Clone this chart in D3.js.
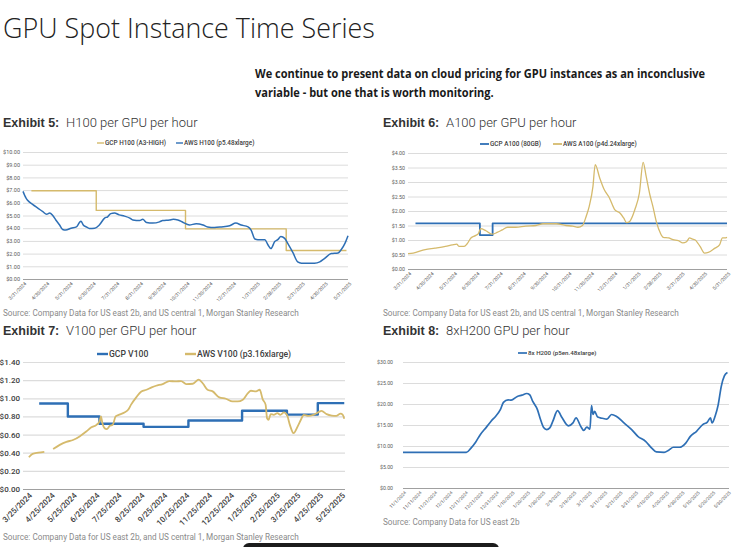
<!DOCTYPE html>
<html>
<head>
<meta charset="utf-8">
<script src="https://cdn.jsdelivr.net/npm/d3@7"></script>
<style>
  body { margin: 0; background: #fff; }
  svg { display: block; font-family: Roboto, "Liberation Sans", sans-serif; }
</style>
</head>
<body>
<svg id="chart" width="740" height="547"></svg>
<script>
// ---- tick labels ----
const monthEndTicks = ['3/31/2024', '4/30/2024', '5/31/2024', '6/30/2024', '7/31/2024', '8/31/2024', '9/30/2024',
  '10/31/2024', '11/30/2024', '12/31/2024', '1/31/2025', '2/28/2025', '3/31/2025', '4/30/2025', '5/31/2025'];
const v100Ticks = ['3/25/2024', '4/25/2024', '5/25/2024', '6/25/2024', '7/25/2024', '8/25/2024', '9/25/2024',
  '10/25/2024', '11/25/2024', '12/25/2024', '1/25/2025', '2/25/2025', '3/25/2025', '4/25/2025', '5/25/2025'];
const h200Ticks = ['11/1/2024', '11/11/2024', '11/21/2024', '12/1/2024', '12/11/2024', '12/21/2024', '12/31/2024',
  '1/10/2025', '1/20/2025', '1/30/2025', '2/9/2025', '2/19/2025', '3/1/2025', '3/11/2025', '3/21/2025', '3/31/2025',
  '4/10/2025', '4/20/2025', '4/30/2025', '5/10/2025', '5/20/2025', '5/30/2025'];

// ---- series ($ per hour) ----
const gcpH100 = [['2024-04-11', 6.95], ['2024-07-05', 5.4], ['2024-10-30', 3.95], ['2025-03-11', 2.25], ['2025-05-29', 2.25]];
const awsH100 = [['2024-03-31', 6.9], ['2024-04-04', 6.37], ['2024-04-06', 6.2], ['2024-04-13', 5.85], ['2024-04-19', 5.6],
  ['2024-04-26', 5.3], ['2024-05-01', 5.1], ['2024-05-05', 5.2], ['2024-05-09', 5.0], ['2024-05-13', 4.65], ['2024-05-18', 4.25],
  ['2024-05-22', 3.9], ['2024-05-26', 3.85], ['2024-06-02', 4.0], ['2024-06-09', 4.1], ['2024-06-13', 4.45], ['2024-06-15', 4.55],
  ['2024-06-18', 4.25], ['2024-06-22', 4.1], ['2024-06-26', 3.98], ['2024-07-03', 4.0], ['2024-07-09', 4.25], ['2024-07-16', 4.8],
  ['2024-07-20', 4.9], ['2024-07-24', 5.15], ['2024-07-29', 5.2], ['2024-08-04', 5.05], ['2024-08-11', 4.95], ['2024-08-18', 4.8],
  ['2024-08-22', 4.65], ['2024-08-31', 4.6], ['2024-09-04', 4.7], ['2024-09-09', 4.45], ['2024-09-17', 4.4], ['2024-09-26', 4.5],
  ['2024-09-30', 4.6], ['2024-10-09', 4.65], ['2024-10-14', 4.7], ['2024-10-20', 4.65], ['2024-10-27', 4.45], ['2024-11-04', 4.25],
  ['2024-11-13', 4.35], ['2024-11-22', 4.25], ['2024-11-28', 4.1], ['2024-12-07', 4.05], ['2024-12-16', 4.1], ['2024-12-27', 4.2],
  ['2025-01-04', 4.4], ['2025-01-11', 4.25], ['2025-01-20', 4.1], ['2025-01-24', 3.85], ['2025-01-29', 3.15], ['2025-02-02', 3.1],
  ['2025-02-11', 3.1], ['2025-02-15', 2.7], ['2025-02-19', 2.4], ['2025-02-24', 2.95], ['2025-02-28', 3.1], ['2025-03-04', 3.35],
  ['2025-03-09', 3.2], ['2025-03-13', 2.8], ['2025-03-20', 2.05], ['2025-03-26', 1.35], ['2025-03-31', 1.25], ['2025-04-06', 1.25],
  ['2025-04-17', 1.25], ['2025-04-24', 1.35], ['2025-04-30', 1.6], ['2025-05-09', 2.0], ['2025-05-18', 2.05], ['2025-05-22', 2.3],
  ['2025-05-27', 2.8], ['2025-05-31', 3.4]];

const gcpA100 = [['2024-04-10', 1.57], ['2024-07-05', 1.17], ['2024-07-22', 1.57], ['2025-05-31', 1.57]];
const awsA100 = [['2024-03-31', 0.53], ['2024-04-07', 0.55], ['2024-04-23', 0.67], ['2024-05-06', 0.72], ['2024-05-20', 0.78],
  ['2024-05-29', 0.83], ['2024-06-04', 0.86], ['2024-06-07', 0.78], ['2024-06-14', 0.78], ['2024-06-18', 0.87], ['2024-06-23', 1.07],
  ['2024-06-29', 1.15], ['2024-07-03', 1.22], ['2024-07-06', 1.39], ['2024-07-13', 1.32], ['2024-07-21', 1.2], ['2024-07-28', 1.26],
  ['2024-08-04', 1.35], ['2024-08-11', 1.44], ['2024-08-22', 1.44], ['2024-09-04', 1.48], ['2024-09-18', 1.5], ['2024-09-27', 1.56],
  ['2024-10-15', 1.56], ['2024-10-28', 1.5], ['2024-11-06', 1.48], ['2024-11-13', 1.44], ['2024-11-19', 1.5], ['2024-11-24', 1.82],
  ['2024-11-28', 2.16], ['2024-12-03', 2.85], ['2024-12-06', 3.6], ['2024-12-12', 3.14], ['2024-12-18', 2.74], ['2024-12-25', 2.45],
  ['2025-01-01', 2.05], ['2025-01-08', 1.93], ['2025-01-13', 1.76], ['2025-01-17', 1.6], ['2025-01-21', 1.64], ['2025-01-28', 2.05],
  ['2025-02-03', 2.62], ['2025-02-08', 3.68], ['2025-02-12', 3.2], ['2025-02-17', 2.56], ['2025-02-21', 2.16], ['2025-02-26', 1.6],
  ['2025-03-03', 1.24], ['2025-03-07', 1.09], ['2025-03-14', 1.07], ['2025-03-20', 1.01], ['2025-03-27', 0.98], ['2025-04-02', 0.9],
  ['2025-04-07', 0.94], ['2025-04-11', 1.07], ['2025-04-15', 1.03], ['2025-04-18', 1.01], ['2025-04-25', 0.78], ['2025-05-01', 0.55],
  ['2025-05-06', 0.57], ['2025-05-15', 0.72], ['2025-05-21', 0.83], ['2025-05-25', 1.07], ['2025-05-28', 1.07], ['2025-05-31', 1.09]];

const gcpV100 = [['2024-04-09', 0.943], ['2024-05-18', 0.80], ['2024-06-30', 0.72], ['2024-08-29', 0.685], ['2024-10-29', 0.755],
  ['2025-01-10', 0.862], ['2025-03-12', 0.82], ['2025-04-23', 0.947], ['2025-05-29', 0.947]];
const awsV100 = [['2024-03-26', 0.35], ['2024-03-31', 0.387], ['2024-04-08', 0.40], ['2024-04-16', 0.41], ['2024-04-22', null],
  ['2024-04-28', 0.44], ['2024-05-07', 0.486], ['2024-05-16', 0.52], ['2024-05-25', 0.54], ['2024-06-03', 0.58], ['2024-06-12', 0.634],
  ['2024-06-19', 0.68], ['2024-06-26', 0.707], ['2024-06-30', 0.744], ['2024-07-02', 0.80], ['2024-07-04', 0.726], ['2024-07-07', 0.67],
  ['2024-07-10', 0.66], ['2024-07-14', 0.696], ['2024-07-18', 0.707], ['2024-07-22', 0.80], ['2024-07-27', 0.82], ['2024-08-03', 0.844],
  ['2024-08-08', 0.873], ['2024-08-12', 0.93], ['2024-08-19', 1.01], ['2024-08-26', 1.076], ['2024-09-02', 1.094], ['2024-09-09', 1.12],
  ['2024-09-15', 1.138], ['2024-09-24', 1.157], ['2024-10-03', 1.19], ['2024-10-12', 1.186], ['2024-10-19', 1.19], ['2024-10-26', 1.157],
  ['2024-11-04', 1.16], ['2024-11-12', 1.205], ['2024-11-18', 1.16], ['2024-11-24', 1.094], ['2024-12-01', 1.076], ['2024-12-10', 1.01],
  ['2024-12-19', 0.995], ['2024-12-28', 0.965], ['2025-01-04', 0.965], ['2025-01-11', 0.984], ['2025-01-18', 1.057], ['2025-01-22', 1.083],
  ['2025-01-29', 1.076], ['2025-02-03', 1.094], ['2025-02-07', 0.99], ['2025-02-11', 0.93], ['2025-02-13', 0.78], ['2025-02-15', 0.763],
  ['2025-02-18', 0.825], ['2025-02-22', 0.818], ['2025-02-27', 0.836], ['2025-03-03', 0.818], ['2025-03-08', 0.844], ['2025-03-12', 0.818],
  ['2025-03-16', 0.707], ['2025-03-21', 0.615], ['2025-03-27', 0.696], ['2025-03-31', 0.763], ['2025-04-04', 0.818], ['2025-04-10', 0.807],
  ['2025-04-17', 0.818], ['2025-04-24', 0.847], ['2025-04-28', 0.862], ['2025-05-05', 0.825], ['2025-05-12', 0.81], ['2025-05-18', 0.807],
  ['2025-05-24', 0.83], ['2025-05-27', 0.818], ['2025-05-29', 0.774]];

const awsH200 = [['2024-11-01', 8.5], ['2024-12-12', 8.5], ['2024-12-15', 9.5], ['2024-12-18', 10.9], ['2024-12-21', 12.7],
  ['2024-12-25', 14.5], ['2024-12-28', 15.9], ['2024-12-31', 17.1], ['2025-01-03', 18.65], ['2025-01-05', 20.4], ['2025-01-08', 21.0],
  ['2025-01-10', 20.9], ['2025-01-14', 21.8], ['2025-01-17', 22.1], ['2025-01-20', 22.5], ['2025-01-22', 22.2], ['2025-01-24', 20.6],
  ['2025-01-27', 18.65], ['2025-01-29', 16.3], ['2025-01-31', 14.4], ['2025-02-02', 13.9], ['2025-02-04', 14.3], ['2025-02-06', 15.9],
  ['2025-02-09', 18.4], ['2025-02-12', 16.7], ['2025-02-16', 14.8], ['2025-02-19', 15.5], ['2025-02-21', 16.7], ['2025-02-24', 14.7],
  ['2025-02-26', 13.7], ['2025-02-28', 14.5], ['2025-03-02', 14.0], ['2025-03-03', 19.6], ['2025-03-04', 17.5], ['2025-03-05', 18.25],
  ['2025-03-07', 16.9], ['2025-03-10', 16.6], ['2025-03-13', 16.4], ['2025-03-16', 17.5], ['2025-03-19', 17.1], ['2025-03-24', 15.5],
  ['2025-03-29', 13.9], ['2025-04-02', 12.3], ['2025-04-07', 11.1], ['2025-04-11', 9.5], ['2025-04-14', 8.6], ['2025-04-19', 8.5],
  ['2025-04-22', 9.0], ['2025-04-25', 9.7], ['2025-04-29', 9.7], ['2025-05-03', 10.7], ['2025-05-06', 12.3], ['2025-05-10', 13.5],
  ['2025-05-14', 15.1], ['2025-05-17', 15.7], ['2025-05-19', 16.7], ['2025-05-20', 15.5], ['2025-05-22', 17.1], ['2025-05-24', 19.8],
  ['2025-05-26', 24.2], ['2025-05-28', 26.7], ['2025-05-30', 27.5]];

const BLUE = '#2e6fb5';
const GOLD = '#d5ba6c';
const parseISO = d3.timeParse('%Y-%m-%d');
const parseMDY = d3.timeParse('%m/%d/%Y');

const svg = d3.select('#chart');
svg.append('rect').attr('width', 740).attr('height', 547).attr('fill', '#fff');

// squeeze a text horizontally so it spans `width` px from its x
function fitWidth(sel, x, width) {
  sel.each(function () {
    const w = this.getComputedTextLength();
    const k = Math.min(1, width / w);
    d3.select(this)
      .attr('x', 0)
      .attr('transform', `translate(${x},0) scale(${k},1)`);
  });
}

// Page header
svg.append('text')
  .attr('y', 38)
  .attr('font-family', '"Open Sans", "Noto Sans", sans-serif')
  .attr('font-weight', 300)
  .attr('font-size', 28)
  .attr('fill', '#222')
  .text('GPU Spot Instance Time Series')
  .call(fitWidth, 3, 372);

const subLines = ['We continue to present data on cloud pricing for GPU instances as an inconclusive',
  'variable - but one that is worth monitoring.'];
const subWidths = [451, 239];
subLines.forEach((t, i) => {
  svg.append('text')
    .attr('y', 78 + i * 19)
    .attr('font-family', '"Open Sans", "Noto Sans", sans-serif')
    .attr('font-weight', 700)
    .attr('font-size', 12.5)
    .attr('fill', '#1a1a1a')
    .text(t)
    .call(fitWidth, 255, subWidths[i]);
});

function drawPanel(cfg) {
  const g = svg.append('g');

  // Exhibit heading
  g.append('text')
    .attr('x', cfg.hx).attr('y', cfg.hy)
    .attr('font-family', '"Liberation Sans", Arial, sans-serif')
    .attr('font-weight', 700).attr('font-size', 12.5).attr('fill', '#333')
    .text(cfg.exhibit);
  g.append('text')
    .attr('x', cfg.hx + 63).attr('y', cfg.hy)
    .attr('font-family', 'Roboto, sans-serif')
    .attr('font-weight', 300).attr('font-size', 13).attr('fill', '#333')
    .text(cfg.title);

  const x = d3.scaleTime()
    .domain(cfg.domain.map(parseISO))
    .range([cfg.left, cfg.right]);
  const y = d3.scaleLinear()
    .domain([0, cfg.yMax])
    .range([cfg.bottom, cfg.top]);

  // gridlines + y labels
  const yAxis = d3.axisLeft(y)
    .tickValues(d3.range(0, cfg.yMax + 1e-9, cfg.yStep))
    .tickSize(-(cfg.right - cfg.left))
    .tickPadding(cfg.yPad)
    .tickFormat(d => `$${d.toFixed(2)}`);
  const ya = g.append('g')
    .attr('transform', `translate(${cfg.left},0)`)
    .call(yAxis)
    .attr('font-family', null)
    .attr('font-size', null);
  ya.select('.domain').remove();
  ya.selectAll('line')
    .attr('stroke', d => (d === 0 ? '#a0a0a0' : '#dcdcdc'))
    .attr('stroke-width', d => (d === 0 ? 1 : cfg.gridW));
  ya.selectAll('text')
    .attr('font-size', cfg.yFont)
    .attr('font-weight', cfg.labelWeight)
    .attr('fill', cfg.labelColor);

  // x labels
  const xa = g.append('g')
    .attr('transform', `translate(0,${cfg.bottom})`)
    .call(d3.axisBottom(x)
      .tickValues(cfg.ticks.map(parseMDY))
      .tickSize(0)
      .tickFormat((d, i) => cfg.ticks[i]))
    .attr('font-family', null)
    .attr('font-size', null);
  xa.select('.domain').remove();
  xa.selectAll('text')
    .attr('x', 0).attr('y', 0)
    .attr('dy', '0.35em')
    .attr('transform', `translate(${cfg.xShift},${cfg.xPad}) rotate(-45)`)
    .style('text-anchor', 'end')
    .attr('font-size', cfg.xFont)
    .attr('font-weight', cfg.labelWeight)
    .attr('fill', cfg.labelColor);

  // series
  cfg.series.forEach((s) => {
    const line = d3.line()
      .defined(d => d[1] !== null)
      .x(d => x(parseISO(d[0])))
      .y(d => y(d[1]))
      .curve(s.step ? d3.curveStepAfter : d3.curveMonotoneX);
    g.append('path')
      .datum(s.data)
      .attr('d', line)
      .attr('fill', 'none')
      .attr('stroke', s.color)
      .attr('stroke-width', s.width)
      .attr('stroke-linejoin', 'round');
  });

  // legend
  cfg.legend.forEach((l) => {
    g.append('line')
      .attr('x1', l.x).attr('x2', l.x + cfg.legLen)
      .attr('y1', cfg.legY).attr('y2', cfg.legY)
      .attr('stroke', l.color).attr('stroke-width', cfg.legW);
    g.append('text')
      .attr('x', l.x + cfg.legLen + 1)
      .attr('y', cfg.legY)
      .attr('dy', '0.35em')
      .attr('font-size', cfg.legFont)
      .attr('font-weight', cfg.legWeight)
      .attr('fill', '#404040')
      .text(l.label);
  });

  // source
  g.append('text')
    .attr('x', cfg.hx).attr('y', cfg.srcY)
    .attr('font-size', 8.2)
    .attr('fill', '#8a8a8a')
    .text(cfg.source);
}

const srcBoth = 'Source: Company Data for US east 2b, and US central 1, Morgan Stanley Research';

drawPanel({
  exhibit: 'Exhibit 5:', title: 'H100 per GPU per hour', hx: 3, hy: 127,
  domain: ['2024-03-31', '2025-05-31'], ticks: monthEndTicks,
  left: 23, right: 348, top: 152, bottom: 279, yMax: 10, yStep: 1,
  yPad: 3, yFont: 5.5, xFont: 4.8, xPad: 4, xShift: 2, gridW: 1,
  labelWeight: 400, labelColor: '#595959',
  series: [
    { data: gcpH100, color: GOLD, width: 1.4, step: true },
    { data: awsH100, color: BLUE, width: 1.5 },
  ],
  legY: 143, legLen: 7, legW: 1.4, legFont: 6.4, legWeight: 500,
  legend: [
    { x: 97, color: GOLD, label: 'GCP H100 (A3-HIGH)' },
    { x: 176, color: BLUE, label: 'AWS H100 (p5.48xlarge)' },
  ],
  srcY: 316, source: srcBoth,
});

drawPanel({
  exhibit: 'Exhibit 6:', title: 'A100 per GPU per hour', hx: 383, hy: 127,
  domain: ['2024-03-31', '2025-05-31'], ticks: monthEndTicks,
  left: 408, right: 727, top: 153, bottom: 269, yMax: 4, yStep: 0.5,
  yPad: 3, yFont: 5.3, xFont: 4.8, xPad: 4, xShift: 2, gridW: 1,
  labelWeight: 400, labelColor: '#595959',
  series: [
    { data: gcpA100, color: BLUE, width: 1.8, step: true },
    { data: awsA100, color: GOLD, width: 1.3 },
  ],
  legY: 144, legLen: 9, legW: 1.8, legFont: 6.4, legWeight: 500,
  legend: [
    { x: 480, color: BLUE, label: 'GCP A100 (80GB)' },
    { x: 553, color: GOLD, label: 'AWS A100 (p4d.24xlarge)' },
  ],
  srcY: 316, source: srcBoth,
});

drawPanel({
  exhibit: 'Exhibit 7:', title: 'V100 per GPU per hour', hx: 3, hy: 335,
  domain: ['2024-03-18', '2025-05-30'], ticks: v100Ticks,
  left: 23, right: 345, top: 362, bottom: 489, yMax: 1.4, yStep: 0.2,
  yPad: 3, yFont: 8, xFont: 8, xPad: 5, xShift: 2, gridW: 1.2,
  labelWeight: 500, labelColor: '#404040',
  series: [
    { data: gcpV100, color: BLUE, width: 2.4, step: true },
    { data: awsV100, color: GOLD, width: 1.8 },
  ],
  legY: 354, legLen: 11, legW: 2.4, legFont: 8.6, legWeight: 500,
  legend: [
    { x: 97, color: BLUE, label: 'GCP V100' },
    { x: 185, color: GOLD, label: 'AWS V100 (p3.16xlarge)' },
  ],
  srcY: 540, source: srcBoth,
});

drawPanel({
  exhibit: 'Exhibit 8:', title: '8xH200 GPU per hour', hx: 383, hy: 335,
  domain: ['2024-11-01', '2025-05-31'], ticks: h200Ticks,
  left: 403, right: 729, top: 362, bottom: 488, yMax: 30, yStep: 5,
  yPad: 10, yFont: 5.2, xFont: 4.6, xPad: 4, xShift: 2, gridW: 1,
  labelWeight: 400, labelColor: '#595959',
  series: [
    { data: awsH200, color: BLUE, width: 1.7 },
  ],
  legY: 353, legLen: 9, legW: 1.7, legFont: 6.2, legWeight: 500,
  legend: [
    { x: 518, color: BLUE, label: '8x H200 (p5en.48xlarge)' },
  ],
  srcY: 525, source: 'Source: Company Data for US east 2b',
});

// dark bar at the bottom edge
svg.append('rect')
  .attr('x', 243).attr('y', 543)
  .attr('width', 256).attr('height', 12)
  .attr('rx', 6)
  .attr('fill', '#1c1c1c');
</script>
</body>
</html>
